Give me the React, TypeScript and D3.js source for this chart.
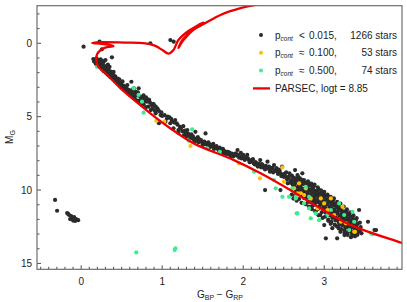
import React, { useEffect, useRef } from 'react'
import * as d3 from 'd3'

const W = 407
const H = 302
const M = { left: 37, right: 402, top: 5.7, bottom: 269.3 }

// colour index, absolute G magnitude
const isochrone: [number, number][] = [
  [4.1, 13.88], [3.95, 13.59], [3.33, 12.39], [2.92, 11.14], [2.58, 10.0], [2.215, 8.86],
  [1.885, 7.96], [1.39, 6.82], [1.1, 5.79], [0.854, 4.77], [0.73, 4.21], [0.483, 3.05],
  [0.297, 2.03], [0.21, 1.6], [0.186, 1.14], [0.198, 0.73], [0.26, 0.39], [0.33, 0.25],
  [0.4, 0.2], [0.36, 0.12], [0.25, 0.04], [0.136, -0.02], [0.235, -0.07], [0.545, -0.05],
  [0.792, 0.01], [0.916, 0.18], [1.002, 0.46], [1.077, 0.7], [1.139, 0.46], [1.2, -0.22],
  [1.324, -0.84], [1.51, -1.42], [1.423, -1.11], [1.262, -0.22], [1.2, 0.32], [1.25, -0.22],
  [1.386, -0.91], [1.535, -1.38], [1.72, -1.93], [1.968, -2.39], [2.277, -2.75],
]

const whiteDwarfs: [number, number][] = [
  [-0.322, 10.67], [-0.297, 11.41], [-0.173, 11.57], [-0.149, 11.7], [-0.124, 11.77],
  [-0.111, 11.91], [-0.087, 11.84], [-0.062, 11.98], [-0.037, 12.05], [-0.136, 11.98],
  [-0.099, 12.08], [-0.074, 12.11], [-0.161, 11.63],
]

const giants: [number, number][] = [
  [0.03, 0.23], [0.227, -0.11], [0.256, 0.41], [0.854, 0.0], [1.101, -0.22], [1.142, -0.11], [0.38, 0.96],
]

const upperMS: [number, number][] = [
  [0.15, 1.08], [0.17, 1.2], [0.19, 1.02], [0.21, 1.15], [0.23, 1.22], [0.24, 1.1], [0.26, 1.32],
  [0.28, 1.25], [0.3, 1.14], [0.25, 1.5], [0.27, 1.42], [0.22, 1.38], [0.29, 1.62], [0.31, 1.55],
  [0.3, 1.75], [0.33, 1.8], [0.34, 1.68], [0.36, 1.92], [0.35, 2.05], [0.38, 2.05], [0.37, 2.2],
  [0.4, 2.18], [0.41, 2.32], [0.42, 2.25], [0.43, 2.45], [0.45, 2.4], [0.44, 2.55], [0.46, 2.62],
  [0.47, 2.72], [0.49, 2.7], [0.5, 2.85], [0.52, 2.88], [0.53, 2.98], [0.55, 2.95], [0.56, 3.1],
  [0.58, 3.15], [0.59, 3.22], [0.61, 3.28], [0.62, 2.62], [0.64, 3.38], [0.65, 3.07], [0.67, 3.3],
  [0.68, 3.48], [0.7, 3.55], [0.71, 3.07], [0.73, 3.64], [0.74, 3.72], [0.76, 3.85], [0.78, 3.75],
  [0.79, 3.92], [0.81, 3.98], [0.82, 3.82], [0.84, 3.86], [0.85, 4.05], [0.87, 4.21], [0.89, 4.12],
  [0.92, 4.32], [0.94, 4.43], [0.75, 4.21], [0.83, 4.32], [0.9, 4.21], [0.86, 4.55], [0.2, 1.35],
  [0.32, 1.9], [0.39, 2.15], [0.48, 2.8], [0.54, 3.1], [0.6, 3.38], [0.66, 3.62], [0.72, 3.9],
  [0.16, 1.25], [0.18, 1.4], [0.2, 1.5], [0.23, 1.6], [0.26, 1.75], [0.28, 1.9], [0.31, 2.05],
  [0.33, 2.15], [0.36, 2.3], [0.39, 2.4], [0.42, 2.6], [0.45, 2.75], [0.48, 2.92], [0.51, 3.05],
  [0.54, 3.2], [0.57, 3.35], [0.6, 3.5], [0.63, 3.6], [0.66, 3.75], [0.69, 3.9], [0.72, 4.05],
  [0.77, 4.15], [0.8, 4.35], [0.88, 4.45], [0.91, 4.6], [0.93, 4.5], [0.26, 1.2], [0.33, 1.45],
  [0.35, 1.6], [0.4, 1.95], [0.47, 2.45], [0.51, 2.6], [0.57, 2.85], [0.63, 3.15], [0.7, 3.35],
  [0.77, 3.55], [0.8, 3.68],
]

const middleMS: [number, number][] = [
  [0.92, 4.77], [0.96, 4.62], [0.98, 4.89], [1.0, 4.95], [1.04, 5.34], [1.06, 5.12], [1.09, 5.04],
  [1.1, 5.45], [1.12, 5.3], [1.14, 5.79], [1.16, 5.23], [1.18, 5.45], [1.2, 5.91], [1.22, 5.7],
  [1.25, 6.0], [1.27, 6.25], [1.29, 6.1], [1.31, 5.91], [1.33, 6.3], [1.35, 6.48], [1.37, 6.4],
  [1.39, 6.55], [1.41, 6.03], [1.43, 6.62], [1.45, 6.75], [1.47, 6.68], [1.49, 6.71], [1.51, 6.9],
  [1.535, 6.14], [1.54, 6.86], [1.56, 6.95], [1.58, 7.08], [1.6, 7.05], [1.62, 7.02], [1.64, 7.2],
  [1.66, 7.12], [1.68, 7.16], [1.7, 7.3], [1.72, 7.25], [1.74, 7.39], [1.76, 7.5], [1.78, 7.44],
  [1.8, 7.39], [0.96, 5.45], [1.2, 6.1], [1.3, 6.35], [1.4, 6.72], [1.5, 6.9],
  [0.95, 4.55], [0.99, 4.7], [1.03, 4.9], [1.07, 5.0], [1.11, 5.15], [1.15, 5.4], [1.19, 5.55],
  [1.23, 5.8], [1.26, 5.65], [1.28, 5.95], [1.32, 6.15], [1.36, 6.2], [1.38, 6.35], [1.42, 6.5],
  [1.44, 6.4], [1.46, 6.55], [1.48, 6.6], [1.52, 6.7], [1.55, 6.8], [1.57, 6.75], [1.59, 6.9],
  [1.61, 6.95], [1.63, 6.85], [1.65, 7.05], [1.67, 7.0], [1.69, 7.2], [1.71, 7.1], [1.73, 7.3],
  [1.75, 7.2], [1.77, 7.35], [1.79, 7.55],
]

const lowerMS: [number, number][] = [
  [1.82, 7.55], [1.84, 7.61], [1.86, 7.52], [1.88, 7.7], [1.91, 7.5], [1.93, 7.27], [1.95, 7.8],
  [1.97, 7.46], [1.99, 7.73], [2.01, 7.85], [2.03, 7.84], [2.05, 7.61], [2.07, 7.96], [2.09, 8.05],
  [2.11, 7.96], [2.13, 8.18], [2.15, 8.1], [2.17, 8.3], [2.19, 8.22], [2.21, 7.96], [2.23, 8.23],
  [2.25, 8.4], [2.26, 8.52], [2.27, 10.0], [2.28, 8.35], [2.3, 8.07], [2.31, 8.55], [2.32, 8.41],
  [2.34, 8.62], [2.36, 8.48], [2.38, 8.3], [2.4, 8.64], [2.42, 8.75], [2.44, 8.6], [2.46, 8.86],
  [2.48, 8.41], [2.49, 8.95], [2.5, 9.1], [2.52, 9.09], [2.53, 8.8], [2.55, 9.2], [2.55, 9.54],
  [2.57, 8.86], [2.59, 9.32], [2.6, 9.05], [2.46, 10.0],
  [1.81, 7.4], [1.83, 7.45], [1.85, 7.7], [1.87, 7.6], [1.89, 7.55], [1.92, 7.65], [1.94, 7.62],
  [1.96, 7.7], [1.98, 7.85], [2.0, 7.6], [2.02, 7.95], [2.04, 7.75], [2.06, 7.85], [2.08, 8.1],
  [2.1, 8.0], [2.12, 7.9], [2.14, 8.25], [2.16, 8.15], [2.18, 8.4], [2.2, 8.25], [2.22, 8.45],
  [2.24, 8.3], [2.27, 8.6], [2.29, 8.5], [2.33, 8.75], [2.35, 8.55], [2.37, 8.8], [2.39, 8.7],
  [2.41, 8.5], [2.43, 8.9], [2.45, 8.7], [2.47, 9.05], [2.51, 8.9], [2.54, 9.3], [2.56, 9.1],
  [2.58, 9.5],
]

const clusterMS: [number, number][] = [
  [2.61, 9.4], [2.62, 9.15], [2.63, 9.64], [2.63, 9.88], [2.64, 8.64], [2.65, 9.3], [2.66, 9.5],
  [2.67, 8.98], [2.68, 9.75], [2.69, 9.54], [2.7, 9.2], [2.71, 10.0], [2.72, 9.6], [2.73, 8.86],
  [2.73, 9.9], [2.74, 9.4], [2.75, 9.32], [2.76, 10.1], [2.77, 9.65], [2.78, 9.85], [2.79, 9.78],
  [2.8, 10.2], [2.81, 9.55], [2.82, 10.0], [2.83, 9.7], [2.83, 10.34], [2.84, 10.0], [2.85, 10.45],
  [2.86, 9.9], [2.87, 10.2], [2.88, 10.6], [2.89, 10.05], [2.9, 10.35], [2.91, 10.7], [2.92, 10.15],
  [2.93, 10.5], [2.94, 10.85], [2.95, 10.25], [2.96, 10.6], [2.97, 10.95], [2.98, 10.4], [2.99, 10.75],
  [3.0, 11.1], [3.0, 10.5], [3.01, 10.9], [3.02, 11.25], [3.03, 10.65], [3.04, 11.0], [3.05, 11.4],
  [3.06, 10.8], [3.07, 11.15], [3.08, 11.55], [3.09, 10.95], [3.1, 11.3], [3.11, 11.7], [3.12, 11.05],
  [3.13, 11.45], [3.14, 11.85], [3.15, 11.2], [3.16, 11.6], [3.17, 12.0], [3.18, 11.35], [3.19, 11.75],
  [3.2, 12.1], [3.21, 11.5], [3.22, 11.9], [3.23, 12.25], [3.24, 11.65], [3.25, 12.05], [3.26, 12.4],
  [3.27, 11.8], [3.28, 12.2], [3.29, 12.55], [3.3, 11.95], [3.31, 12.35], [3.32, 12.7], [3.33, 12.1],
  [3.34, 12.5], [3.35, 12.85], [3.36, 12.25], [3.37, 12.6], [3.38, 12.95], [3.39, 12.4], [3.4, 12.7],
  [3.41, 13.05], [3.43, 11.36], [3.44, 12.8], [3.46, 12.95], [3.54, 12.16], [3.62, 12.73], [3.64, 12.73],
  [3.02, 13.29], [3.16, 13.29], [3.25, 13.07], [3.0, 12.39], [3.1, 12.6], [3.2, 12.85], [3.05, 12.1],
  [2.95, 11.7], [2.9, 11.4], [2.85, 11.1], [2.8, 10.8], [2.75, 10.55], [2.7, 10.3], [2.65, 10.1],
  [3.15, 12.45], [3.25, 12.75], [3.35, 13.1], [2.98, 11.9], [3.08, 12.3], [3.18, 12.62], [3.28, 12.92],
  [2.88, 11.0], [2.78, 10.45], [2.68, 10.2], [2.62, 9.7], [2.66, 9.85], [2.7, 9.65], [2.74, 10.05],
  [2.78, 10.2], [2.82, 10.45], [2.86, 10.6], [2.9, 10.85], [2.94, 11.1], [2.98, 11.25], [3.02, 11.55],
  [3.06, 11.7], [3.1, 11.9], [3.14, 12.05], [3.18, 12.2], [3.22, 12.4], [3.26, 12.55], [3.3, 12.8],
  [3.34, 12.95], [3.38, 13.15], [2.76, 9.5], [2.8, 9.7], [2.84, 9.95], [2.88, 10.15], [2.92, 10.4],
  [2.96, 10.55], [3.0, 10.8], [3.04, 10.95], [3.08, 11.2], [3.12, 11.35], [3.16, 11.5], [3.2, 11.7],
  [3.24, 11.85], [3.28, 12.05], [3.32, 12.25], [3.36, 12.45], [3.4, 12.55], [3.42, 12.85], [2.87, 9.75],
  [2.93, 9.95], [2.99, 10.2], [3.05, 10.45], [3.11, 10.7], [3.17, 10.95], [3.21, 11.2], [3.27, 11.45],
  [3.31, 11.7], [3.35, 11.9], [3.39, 12.1],
  [2.6, 9.02], [2.61, 9.62], [2.6, 10.31], [2.62, 10.58], [2.64, 9.21], [2.65, 9.47], [2.64, 10.42],
  [2.66, 10.73], [2.68, 9.12], [2.69, 9.33], [2.68, 9.96], [2.69, 10.61], [2.72, 9.31], [2.71, 9.84],
  [2.73, 10.42], [2.72, 10.87], [2.76, 9.61], [2.77, 9.93], [2.75, 10.32], [2.77, 10.96], [2.8, 9.41],
  [2.81, 9.97], [2.79, 10.53], [2.81, 11.12], [2.84, 9.56], [2.85, 10.17], [2.83, 10.82], [2.85, 11.31],
  [2.88, 9.63], [2.89, 10.36], [2.87, 10.81], [2.89, 11.46], [2.92, 9.81], [2.91, 10.07], [2.93, 10.62],
  [2.92, 11.31], [2.93, 11.72], [2.96, 10.02], [2.97, 10.31], [2.95, 10.86], [2.97, 11.52], [3.0, 10.12],
  [3.01, 10.37], [2.99, 11.31], [3.01, 11.82], [3.04, 10.31], [3.05, 10.62], [3.03, 11.42], [3.05, 12.02],
  [3.08, 10.47], [3.09, 10.77], [3.07, 11.72], [3.09, 12.16], [3.12, 10.57], [3.13, 10.92], [3.11, 11.62],
  [3.13, 12.36], [3.16, 10.81], [3.17, 11.12], [3.15, 11.92], [3.17, 12.51], [3.2, 10.92], [3.21, 11.32],
  [3.19, 12.31], [3.21, 12.66], [3.24, 11.12], [3.25, 11.47], [3.23, 12.22], [3.25, 12.91], [3.28, 11.32],
  [3.29, 11.62], [3.27, 12.52], [3.29, 13.06], [3.32, 11.52], [3.33, 11.82], [3.31, 12.62], [3.33, 13.21],
  [3.36, 11.72], [3.37, 12.02], [3.35, 12.86], [3.4, 11.92], [3.41, 12.32], [3.39, 12.91], [3.44, 12.22],
  [3.45, 12.52],
]

const pcont100: [number, number][] = [
  [0.928, 5.28], [1.027, 5.34], [1.349, 7.0], [1.947, 8.18], [2.207, 9.2], [2.484, 8.45],
  [2.504, 9.43], [2.69, 9.54], [2.71, 10.22], [2.67, 10.22], [2.751, 10.34], [2.958, 10.57],
  [3.082, 10.57], [2.999, 10.91], [2.917, 11.25], [3.04, 11.36], [3.226, 11.14], [3.123, 11.7],
  [3.205, 12.16], [3.267, 12.27], [3.37, 12.84], [2.772, 9.88], [2.834, 10.57], [2.628, 9.88],
  [3.38, 12.84],
]

const pcont500: [number, number][] = [
  [0.194, 1.6], [0.648, 3.07], [0.709, 3.52], [0.751, 3.98], [0.771, 4.73], [1.37, 5.86],
  [1.328, 6.64], [1.556, 7.16], [1.712, 7.39], [2.134, 8.75], [2.38, 9.32], [2.401, 9.88],
  [2.484, 10.46], [2.566, 10.46], [2.607, 9.88], [2.649, 10.57], [2.772, 9.78], [2.813, 10.46],
  [2.649, 10.46], [2.751, 10.91], [2.67, 11.59], [2.813, 11.25], [2.896, 11.59], [2.937, 12.05],
  [3.04, 11.7], [3.082, 11.36], [3.184, 10.91], [3.246, 11.7], [3.35, 11.48], [3.308, 12.73],
  [3.37, 12.16], [3.577, 12.95], [2.834, 11.93], [2.66, 11.59], [1.163, 13.97], [0.68, 14.25],
  [1.155, 14.09], [3.6, 13.02],
]

const pcont015 = [...whiteDwarfs, ...giants, ...upperMS, ...middleMS, ...lowerMS, ...clusterMS]

const legendRows = [
  { color: '#2b2b2b', op: '<', val: '0.015,', n: '1266' },
  { color: '#ffbf00', op: '\u2248', val: '0.100,', n: '53' },
  { color: '#3dec8f', op: '\u2248', val: '0.500,', n: '74' },
]

const xMajor = [0, 1, 2, 3]
const yMajor = [0, 5, 10, 15]

export default function App() {
  const ref = useRef<SVGSVGElement>(null)

  useEffect(() => {
    const svg = d3.select(ref.current)
    svg.selectAll('*').remove()

    const x = d3.scaleLinear().domain([-0.545, 3.96]).range([M.left, M.right])
    const y = d3.scaleLinear().domain([-2.56, 15.4]).range([M.top, M.bottom])

    svg.append('clipPath').attr('id', 'plotclip')
      .append('rect')
      .attr('x', M.left).attr('y', M.top)
      .attr('width', M.right - M.left).attr('height', M.bottom - M.top)

    const plot = svg.append('g').attr('clip-path', 'url(#plotclip)')

    const dots = (data: [number, number][], color: string) => {
      plot.append('g').selectAll('circle').data(data).enter()
        .append('circle')
        .attr('cx', d => x(d[0]))
        .attr('cy', d => y(d[1]))
        .attr('r', 2.1)
        .attr('fill', color)
    }
    dots(pcont015, '#2b2b2b')
    dots(pcont100, '#ffbf00')
    dots(pcont500, '#3dec8f')

    const line = d3.line<[number, number]>()
      .x(d => x(d[0])).y(d => y(d[1]))
      .curve(d3.curveCatmullRom.alpha(0.5))
    plot.append('path')
      .attr('d', line(isochrone))
      .attr('fill', 'none')
      .attr('stroke', '#ee0000')
      .attr('stroke-width', 2.3)

    // ticks, pointing inward, on left and bottom only
    const ticks = svg.append('g').attr('stroke', '#222').attr('stroke-width', 0.8)
    const xMinor = d3.range(-5, 40).map(i => i / 10)
    xMinor.forEach(v => {
      const len = xMajor.includes(v) ? 4 : 2.5
      ticks.append('line').attr('x1', x(v)).attr('x2', x(v))
        .attr('y1', M.bottom).attr('y2', M.bottom - len)
    })
    d3.range(-2, 16).forEach(v => {
      const len = yMajor.includes(v) ? 4 : 2.5
      ticks.append('line').attr('y1', y(v)).attr('y2', y(v))
        .attr('x1', M.left).attr('x2', M.left + len)
    })

    svg.append('rect')
      .attr('x', M.left).attr('y', M.top)
      .attr('width', M.right - M.left).attr('height', M.bottom - M.top)
      .attr('fill', 'none').attr('stroke', '#6e6e6e').attr('stroke-width', 1.2)

    const font = 'Liberation Sans, Arial, sans-serif'
    const labels = svg.append('g').attr('font-family', font).attr('font-size', 10).attr('fill', '#222')
    xMajor.forEach(v => {
      labels.append('text').attr('x', x(v)).attr('y', 285).attr('text-anchor', 'middle').text(v)
    })
    yMajor.forEach(v => {
      labels.append('text').attr('x', 32).attr('y', y(v) + 3.5).attr('text-anchor', 'end').text(v)
    })

    const xl = labels.append('text').attr('x', 220).attr('y', 298).attr('text-anchor', 'middle')
    xl.append('tspan').text('G')
    xl.append('tspan').attr('font-size', 7).attr('dy', 2).text('BP')
    xl.append('tspan').attr('dy', -2).text(' \u2212 G')
    xl.append('tspan').attr('font-size', 7).attr('dy', 2).text('RP')

    const yl = labels.append('text').attr('transform', 'translate(13,137) rotate(-90)').attr('text-anchor', 'middle')
    yl.append('tspan').text('M')
    yl.append('tspan').attr('font-size', 7).attr('dy', 2).text('G')

    // legend
    const lg = svg.append('g').attr('font-family', font).attr('font-size', 10).attr('fill', '#222')
    legendRows.forEach((r, i) => {
      const cy = 35 + i * 17.8
      lg.append('circle').attr('cx', 261).attr('cy', cy).attr('r', 2).attr('fill', r.color)
      const t = lg.append('text').attr('x', 275).attr('y', cy + 3.5)
      t.append('tspan').text('p')
      t.append('tspan').attr('font-size', 6.5).attr('font-style', 'italic').attr('dy', 2).text('cont')
      lg.append('text').attr('x', 299).attr('y', cy + 3.5).text(r.op)
      lg.append('text').attr('x', 309).attr('y', cy + 3.5).text(r.val)
      lg.append('text').attr('x', 397).attr('y', cy + 3.5).attr('text-anchor', 'end').text(r.n + ' stars')
    })
    const ly = 35 + 3 * 17.8
    lg.append('line').attr('x1', 253).attr('x2', 270).attr('y1', ly).attr('y2', ly)
      .attr('stroke', '#ee0000').attr('stroke-width', 2.3)
    lg.append('text').attr('x', 275).attr('y', ly + 3.5).text('PARSEC, logt = 8.85')
  }, [])

  return (
    <svg ref={ref} width={W} height={H}
      style={{ position: 'absolute', left: 0, top: 0, background: '#fff' }} />
  )
}
